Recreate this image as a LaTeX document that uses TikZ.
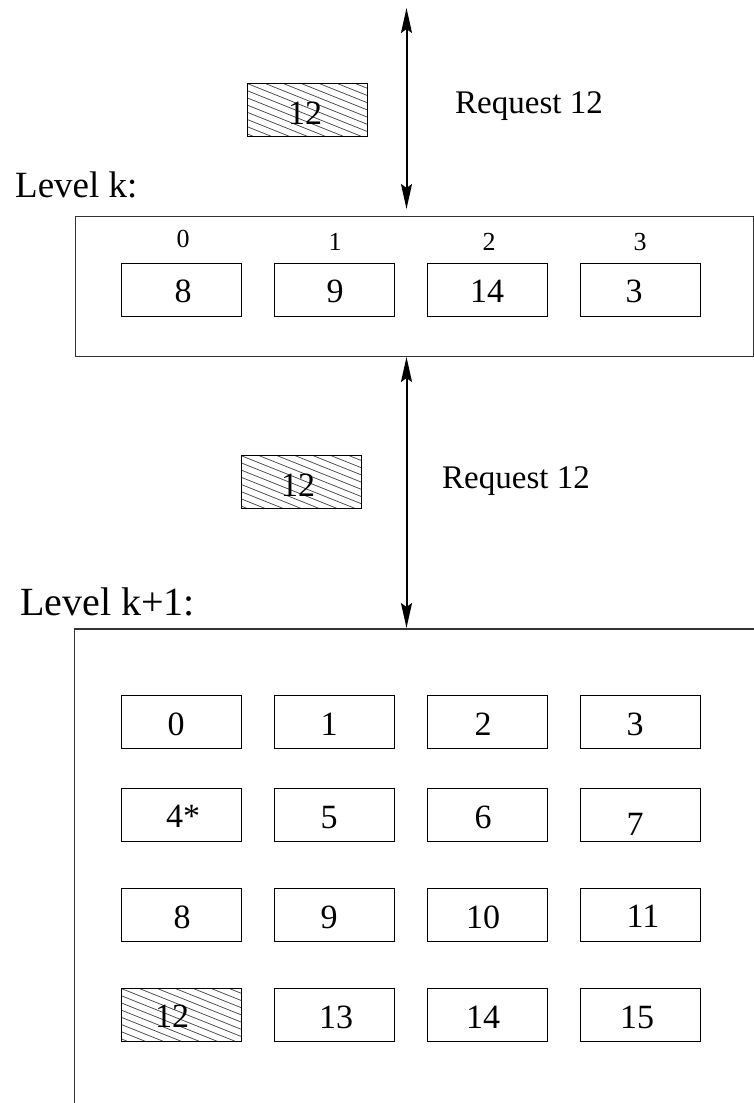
\documentclass[tikz,border=0pt]{standalone}
\usepackage{fontspec}
\setmainfont{Liberation Serif}
\usetikzlibrary{arrows.meta}
\begin{document}
\begin{tikzpicture}[x=1pt,y=-1pt,
  big/.style={font=\fontsize{34}{40}\selectfont},
  small/.style={font=\fontsize{26}{30}\selectfont},
  txt/.style={big, anchor=base, inner sep=0pt},
  idx/.style={small, anchor=base, inner sep=0pt},
  lbl/.style={font=\fontsize{33}{40}\selectfont, anchor=base west, inner sep=0pt},
  lvl/.style={lbl, font=\fontsize{37}{44}\selectfont},
  lvlb/.style={lbl, font=\fontsize{40}{48}\selectfont},
  cell/.style={draw, line width=1.3pt, minimum width=120pt, minimum height=53pt, inner sep=0pt, anchor=north west},
  hatch/.style={cell, path picture={
      \foreach \k in {-10,...,10} {
        \draw[line width=0.7pt, black!75] ([xshift=\k*18pt]path picture bounding box.north west) -- ++(170pt,-68pt);
      }}},
  frame/.style={line width=1.3pt, black!80},
  dbl/.style={line width=2pt, {Stealth[length=25pt,width=11pt,inset=4pt]}-{Stealth[length=25pt,width=11pt,inset=4pt]}}
]
\useasboundingbox (0,0) rectangle (753,1103);

% ---- Level k ----
\node[lvl] (lk) at (15,197) {Level k:};
\node[hatch] (h1) at (247,83) {};
\node[txt] (h1t) at (305,124) {12};
\node[lbl] (r1) at (455,113) {Request 12};

\node[draw, frame, minimum width=678pt, minimum height=140pt, inner sep=0pt, anchor=north west] (boxk) at (74.5,215.5) {};

\node[idx] (i0) at (183,247) {0};
\node[idx] (i1) at (335,250) {1};
\node[idx] (i2) at (489,250) {2};
\node[idx] (i3) at (640,250) {3};

\node[cell] (k0) at (121,263) {};
\node[cell] (k1) at (274,263) {};
\node[cell] (k2) at (427,263) {};
\node[cell] (k3) at (580,263) {};
\node[txt] (k0t) at (183,302) {8};
\node[txt] (k1t) at (335,302) {9};
\node[txt] (k2t) at (487,302) {14};
\node[txt] (k3t) at (634,302) {3};

\coordinate (a1s) at (406.5,8);
\coordinate (a1e) at (406.5,209);
\draw[dbl] (a1s) -- (a1e);

% ---- Level k+1 ----
\node[hatch] (h2) at (240.5,455) {};
\node[txt] (h2t) at (298,496) {12};
\node[lbl] (r2) at (442,488) {Request 12};
\node[lvlb] (lk1) at (20,615) {Level k+1:};

\coordinate (a2s) at (406.5,357);
\coordinate (a2e) at (406.5,628);
\draw[dbl] (a2s) -- (a2e);

\coordinate (fbl) at (74.5,1110);
\coordinate (ftl) at (74.5,629);
\coordinate (ftr) at (760,629);
\draw[frame] (fbl) -- (ftl) -- (ftr);

% row 1
\node[cell] (c0) at (121,695) {};
\node[cell] (c1) at (274,695) {};
\node[cell] (c2) at (427,695) {};
\node[cell] (c3) at (580,695) {};
\node[txt] (c0t) at (176,735) {0};
\node[txt] (c1t) at (329,735) {1};
\node[txt] (c2t) at (483,735) {2};
\node[txt] (c3t) at (635,735) {3};
% row 2
\node[cell] (c4) at (121,788) {};
\node[cell] (c5) at (274,788) {};
\node[cell] (c6) at (427,788) {};
\node[cell] (c7) at (580,788) {};
\node[txt] (c4t) at (183,827) {4*};
\node[txt] (c5t) at (329,828) {5};
\node[txt] (c6t) at (483,828) {6};
\node[txt] (c7t) at (635,835) {7};
% row 3
\node[cell] (c8) at (121,888) {};
\node[cell] (c9) at (274,888) {};
\node[cell] (c10) at (427,888) {};
\node[cell] (c11) at (580,888) {};
\node[txt] (c8t) at (182,928) {8};
\node[txt] (c9t) at (329,928) {9};
\node[txt] (c10t) at (483,928) {10};
\node[txt] (c11t) at (643,927) {11};
% row 4
\node[hatch] (c12) at (121,988) {};
\node[cell] (c13) at (274,988) {};
\node[cell] (c14) at (427,988) {};
\node[cell] (c15) at (580,988) {};
\node[txt] (c12t) at (172,1027) {12};
\node[txt] (c13t) at (336,1028) {13};
\node[txt] (c14t) at (483,1028) {14};
\node[txt] (c15t) at (637,1028) {15};
\end{tikzpicture}
\end{document}
